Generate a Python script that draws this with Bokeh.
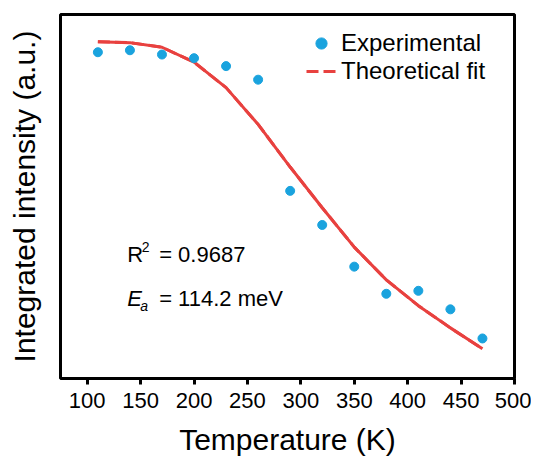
from bokeh.plotting import figure
from bokeh.models import ColumnDataSource, Legend, LegendItem, FixedTicker, Range1d
from bokeh.core.properties import value
from bokeh.embed import file_html
from bokeh.resources import INLINE

# ---- data ----
temperature = [110, 140, 170, 200, 230, 260, 290, 320, 350, 380, 410, 440, 470]
experimental = [0.986, 0.992, 0.979, 0.968, 0.944, 0.903, 0.567, 0.464, 0.338, 0.256, 0.265, 0.209, 0.121]
theoretical_fit = [1.018, 1.015, 1.001, 0.956, 0.879, 0.768, 0.639, 0.516, 0.397, 0.298, 0.220, 0.153, 0.090]
x_ticks = [100, 150, 200, 250, 300, 350, 400, 450, 500]
r_squared = "0.9687"
activation_energy = "114.2"

FONT = "Liberation Sans"
BLUE = "#1AA3DE"
RED = "#E8413F"

p = figure(width=531, height=458,
           x_range=Range1d(75, 500), y_range=Range1d(0, 1.1),
           output_backend="svg", toolbar_location=None,
           min_border_left=60, min_border_right=17, min_border_top=14, min_border_bottom=79)
p.background_fill_color = "white"
p.border_fill_color = "white"
p.xgrid.visible = False
p.ygrid.visible = False
p.outline_line_color = "black"
p.outline_line_width = 3
p.outline_line_alpha = 1.0

# x axis
xa = p.xaxis[0]
xa.ticker = FixedTicker(ticks=x_ticks)
xa.minor_tick_line_color = None
xa.major_tick_in = 0
xa.major_tick_out = 6
xa.major_tick_line_width = 3
xa.major_tick_line_color = "black"
xa.axis_line_color = None
xa.major_label_text_font = FONT
xa.major_label_text_font_size = "22px"
xa.major_label_text_color = "black"
xa.major_label_standoff = 8
xa.axis_label = "Temperature (K)"
xa.axis_label_text_font = FONT
xa.axis_label_text_font_size = "30px"
xa.axis_label_text_font_style = "normal"
xa.axis_label_text_color = "black"
xa.axis_label_standoff = 12

# y axis
ya = p.yaxis[0]
ya.ticker = FixedTicker(ticks=[])
ya.minor_tick_line_color = None
ya.major_tick_line_color = None
ya.major_tick_in = 0
ya.major_tick_out = 0
ya.axis_line_color = None
ya.major_label_text_font_size = "0px"
ya.axis_label = "Integrated intensity (a.u.)"
ya.axis_label_text_font = FONT
ya.axis_label_text_font_size = "30px"
ya.axis_label_text_font_style = "normal"
ya.axis_label_text_color = "black"
ya.axis_label_standoff = 20

src_exp = ColumnDataSource(dict(x=temperature, y=experimental))
src_fit = ColumnDataSource(dict(x=temperature, y=theoretical_fit))

# dashed copy under the solid fit line (only its legend swatch is visible)
legend_dash = p.line("x", "y", source=src_fit, line_color=RED, line_width=3, line_dash="12 5")
fit_line = p.line("x", "y", source=src_fit, line_color=RED, line_width=3)
pts = p.scatter("x", "y", source=src_exp, size=9, fill_color=BLUE, line_color=BLUE)

legend = Legend(items=[LegendItem(label="Experimental", renderers=[pts]),
                       LegendItem(label="Theoretical fit", renderers=[legend_dash])],
                location=(246, 293))
legend.border_line_color = None
legend.background_fill_alpha = 0
legend.padding = 0
legend.margin = 0
legend.spacing = 0
legend.glyph_width = 30
legend.glyph_height = 28
legend.label_height = 28
legend.label_standoff = 5
legend.label_text_font = FONT
legend.label_text_font_size = "24px"
legend.label_text_color = "black"
p.add_layout(legend, "center")

# annotations
ANN_X = 137.4
R_Y = 0.376
E_Y = 0.241
common = dict(text_font=value(FONT), text_color="black", text_baseline="alphabetic", text_align="left")
p.text(x=[ANN_X], y=[R_Y], text=["R"], text_font_size="22px", **common)
p.text(x=[ANN_X], y=[R_Y], text=["2"], text_font_size="14px", x_offset=14.5, y_offset=-7, **common)
p.text(x=[ANN_X], y=[R_Y], text=["= " + r_squared], text_font_size="22px", x_offset=32, **common)
p.text(x=[ANN_X], y=[E_Y], text=["E"], text_font_size="22px", text_font_style="italic", **common)
p.text(x=[ANN_X], y=[E_Y], text=["a"], text_font_size="14px", text_font_style="italic",
       x_offset=13, y_offset=7, **common)
p.text(x=[ANN_X], y=[E_Y], text=["= " + activation_energy + " meV"], text_font_size="22px",
       x_offset=32, **common)

open("out.html", "w").write(file_html(p, INLINE))
